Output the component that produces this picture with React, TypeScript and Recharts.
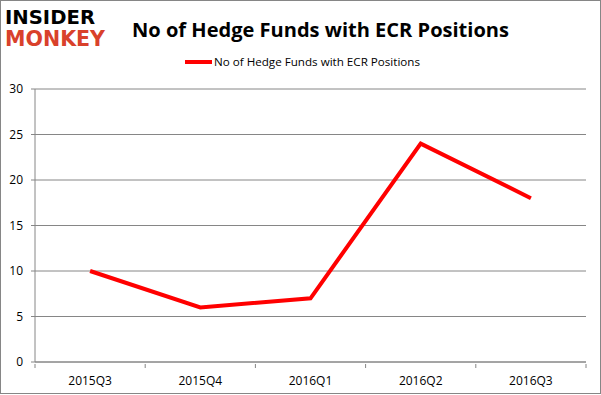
import React from "react";
import { LineChart, Line, XAxis, YAxis, CartesianGrid } from "recharts";

const categories = ["2015Q3", "2015Q4", "2016Q1", "2016Q2", "2016Q3"];
const funds = [10, 6, 7, 24, 18];
const yTicks = [0, 5, 10, 15, 20, 25, 30];
const seriesName = "No of Hedge Funds with ECR Positions";
const title = "No of Hedge Funds with ECR Positions";

const data = categories.map((c, i) => ({ quarter: c, value: funds[i] }));

const GRAY = "#868686";
const FONT = "'Open Sans', 'DejaVu Sans', sans-serif";

const CategoryTick = (props: any) => {
  const { x, y, payload, index, visibleTicksCount, width } = props;
  const band = (width ?? 551) / (visibleTicksCount ?? categories.length);
  const half = band / 2;
  const top = y - 8;
  return (
    <g>
      <line x1={x - half} x2={x - half} y1={top} y2={top + 4} stroke={GRAY} />
      {index === (visibleTicksCount ?? categories.length) - 1 && (
        <line x1={x + half} x2={x + half} y1={top} y2={top + 4} stroke={GRAY} />
      )}
      <text x={x} y={top + 21} textAnchor="middle" fontSize={12} fontFamily={FONT} fill="#000">
        {payload.value}
      </text>
    </g>
  );
};

export default function App() {
  return (
    <div style={{ position: "fixed", left: 0, top: 0, width: 601, height: 395, background: "#fff" }}>
      <div style={{ position: "absolute", left: 0, top: 0, width: 601, height: 394, boxSizing: "border-box", border: `1px solid ${GRAY}` }} />
      <svg width={601} height={70} style={{ position: "absolute", left: 0, top: 0 }}>
        <text x={5} y={24} fontSize={19} fontWeight={900} fontFamily="'DejaVu Sans', sans-serif" fill="#000" textLength={90} lengthAdjust="spacingAndGlyphs">
          INSIDER
        </text>
        <text x={5} y={46} fontSize={22} fontWeight={900} fontFamily="'DejaVu Sans', sans-serif" fill="#D9412B" textLength={100} lengthAdjust="spacingAndGlyphs">
          MONKEY
        </text>
        <text x={132} y={37} fontSize={20} fontWeight={700} fontFamily={FONT} fill="#000" textLength={377} lengthAdjust="spacingAndGlyphs">
          {title}
        </text>
        <line x1={185} x2={212} y1={62} y2={62} stroke="#FF0000" strokeWidth={4} />
        <text x={214} y={66} fontSize={11.5} fontFamily={FONT} fill="#000" textLength={206} lengthAdjust="spacingAndGlyphs">
          {seriesName}
        </text>
      </svg>
      <LineChart width={601} height={395} data={data} margin={{ top: 89, right: 15, bottom: 3, left: 0 }} style={{ position: "absolute", left: 0, top: 0 }}>
        <CartesianGrid vertical={false} stroke={GRAY} strokeWidth={1} />
        <XAxis
          dataKey="quarter"
          scale="band"
          axisLine={{ stroke: GRAY }}
          tickLine={false}
          tickSize={8}
          height={30}
          interval={0}
          tick={<CategoryTick />}
        />
        <YAxis
          domain={[0, 30]}
          ticks={yTicks}
          width={35}
          axisLine={{ stroke: GRAY }}
          tickLine={{ stroke: GRAY }}
          tickSize={4}
          tickMargin={8}
          tick={{ fontSize: 12, fontFamily: FONT, fill: "#000" }}
          interval={0}
        />
        <Line
          type="linear"
          dataKey="value"
          name={seriesName}
          stroke="#FF0000"
          strokeWidth={4}
          dot={false}
          isAnimationActive={false}
        />
      </LineChart>
    </div>
  );
}
